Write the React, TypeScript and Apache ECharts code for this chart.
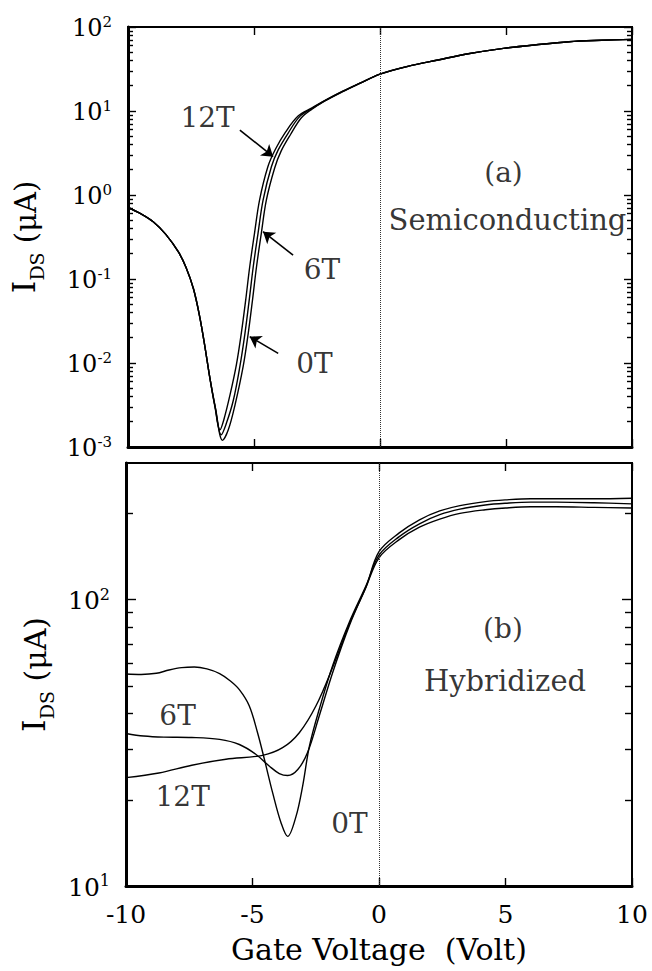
import React, { useEffect, useRef } from 'react';
import * as echarts from 'echarts';

const FONT = 'DejaVu Serif, Liberation Serif, serif';
const INK = '#000';

// ---------- axes ----------
const xRange = [-10, 10];
const topDecades = [0.001, 0.01, 0.1, 1, 10, 100];
const botDecades = [10, 100];
const minorMultipliers = [2, 3, 4, 5, 6, 7, 8, 9];
const botExtraMinor = [200];
const botMax = 300;

// ---------- panel (a): Semiconducting ----------
const top12T: number[][] = [
  [-10, 0.71], [-9.5, 0.6], [-9.0, 0.48], [-8.5, 0.34], [-8.0, 0.21], [-7.7, 0.138], [-7.4, 0.076],
  [-7.15, 0.035], [-6.95, 0.0158], [-6.75, 0.0066], [-6.55, 0.0031], [-6.35, 0.0016], [-6.2, 0.0021],
  [-5.95, 0.0042], [-5.7, 0.0095], [-5.5, 0.023], [-5.33, 0.056], [-5.17, 0.14], [-4.98, 0.35], [-4.78, 0.87],
  [-4.45, 2.17], [-4.15, 3.5], [-3.75, 5.6], [-3.25, 8.7], [-2.7, 10.9], [-2.2, 13.3], [-1.5, 17.1],
  [-0.8, 21.5], [0, 27.5], [1.1, 34], [2.3, 40.5], [3.5, 48], [4.9, 55.7], [6.2, 61.5], [7.5, 66.8],
  [8.8, 69.5], [10, 71.3],
];
const top6T: number[][] = [
  [-10, 0.71], [-9.5, 0.6], [-9.0, 0.48], [-8.5, 0.34], [-8.0, 0.21], [-7.7, 0.138], [-7.4, 0.076],
  [-7.15, 0.035], [-6.95, 0.0158], [-6.75, 0.0066], [-6.55, 0.003], [-6.3, 0.0014], [-6.1, 0.0019],
  [-5.82, 0.0036], [-5.56, 0.0091], [-5.36, 0.0224], [-5.19, 0.056], [-5.03, 0.14], [-4.84, 0.35],
  [-4.64, 0.87], [-4.31, 2.17], [-4.04, 3.44], [-3.65, 5.43], [-3.19, 8.57], [-2.7, 10.7], [-2.2, 13.2],
  [-1.5, 17], [-0.8, 21.4], [0, 27.5], [1.1, 34], [2.3, 40.5], [3.5, 48], [4.9, 55.7], [6.2, 61.5],
  [7.5, 66.8], [8.8, 69.5], [10, 71.3],
];
const top0T: number[][] = [
  [-10, 0.71], [-9.5, 0.6], [-9.0, 0.48], [-8.5, 0.34], [-8.0, 0.21], [-7.7, 0.138], [-7.4, 0.076],
  [-7.15, 0.035], [-6.95, 0.0158], [-6.75, 0.0066], [-6.52, 0.0028], [-6.25, 0.0012], [-6.02, 0.0016],
  [-5.75, 0.0032], [-5.43, 0.0091], [-5.23, 0.0224], [-5.06, 0.056], [-4.9, 0.14], [-4.71, 0.35],
  [-4.51, 0.87], [-4.18, 2.1], [-3.92, 3.35], [-3.55, 5.25], [-3.12, 8.3], [-2.7, 10.5], [-2.2, 13.1],
  [-1.5, 16.9], [-0.8, 21.3], [0, 27.5], [1.1, 34], [2.3, 40.5], [3.5, 48], [4.9, 55.7], [6.2, 61.5],
  [7.5, 66.8], [8.8, 69.5], [10, 71.3],
];
const topLabels = [
  { name: '12T', value: [-6.84, 8.3] },
  { name: '6T', value: [-2.3, 0.128] },
  { name: '0T', value: [-2.6, 0.01] },
  { name: '(a)', value: [4.9, 1.83] },
  { name: 'Semiconducting', value: [5.06, 0.5] },
];
const topArrows: number[][][] = [
  [[-5.56, 5.94], [-4.24, 2.86]],
  [[-3.45, 0.193], [-4.64, 0.366]],
  [[-4.04, 0.013], [-5.17, 0.0206]],
];

// ---------- panel (b): Hybridized ----------
const bot0T: number[][] = [
  [-10, 55], [-9.4, 54.8], [-8.8, 55.3], [-8.3, 56.8], [-7.8, 57.9], [-7.3, 58.2], [-6.8, 57.3],
  [-6.3, 55.2], [-5.9, 52.2], [-5.52, 48.5], [-5.13, 42.6], [-4.8, 34.3], [-4.53, 27.7], [-4.2, 21.1],
  [-3.87, 16.6], [-3.61, 14.9], [-3.28, 17.5], [-3.02, 22.3], [-2.75, 30.8], [-2.36, 41.5], [-1.83, 58.9],
  [-1.17, 83.5], [-0.51, 112], [0, 143], [0.8, 166], [1.6, 184], [2.4, 198], [3.2, 207], [4.2, 214], [5, 217],
  [6, 219], [7, 219], [8.5, 218], [10, 216],
];
const bot6T: number[][] = [
  [-10, 34.1], [-9.3, 33.4], [-8.5, 33.1], [-7.4, 33], [-6.3, 32.5], [-5.52, 31.2], [-4.86, 28.8],
  [-4.33, 26.2], [-3.94, 24.7], [-3.61, 24.3], [-3.21, 25.5], [-2.82, 29.3], [-2.36, 39.3], [-1.83, 55.7],
  [-1.17, 81.3], [-0.51, 110.8], [0, 140], [0.8, 162], [1.6, 179], [2.4, 191], [3.2, 200], [4.2, 206], [5, 209],
  [6, 211], [7, 211], [8.5, 210], [10, 209],
];
const bot12T: number[][] = [
  [-10, 23.9], [-8.7, 24.8], [-7.4, 26.4], [-6.05, 27.7], [-4.6, 28.6], [-3.81, 30.4], [-3.15, 34.3],
  [-2.49, 42.6], [-1.83, 58.1], [-1.17, 82.4], [-0.51, 111], [0, 147], [0.8, 171], [1.6, 190], [2.4, 204],
  [3.2, 213], [4.2, 220], [5, 223], [6, 225], [7, 225], [8.5, 225], [10, 226],
];
const botLabels = [
  { name: '6T', value: [-7.96, 39.3] },
  { name: '12T', value: [-7.76, 20.5] },
  { name: '0T', value: [-1.17, 16.5] },
  { name: '(b)', value: [4.9, 79] },
  { name: 'Hybridized', value: [4.98, 52] },
];

const minorsOf = (decades: number[]) =>
  decades.slice(0, -1).flatMap((d) => minorMultipliers.map((m) => +(d * m).toPrecision(3)));

export default function App() {
  const ref = useRef<HTMLDivElement>(null);

  useEffect(() => {
    document.body.style.margin = '0';
    const chart = echarts.init(ref.current!, null, { renderer: 'svg' });

    const topMinor = minorsOf(topDecades);
    const botMinor = [...minorsOf(botDecades), ...botExtraMinor];

    const sup = (v: number) => `{b|10}{s|${Math.round(Math.log10(v))}}`;
    const supRich = (big: number, small: number, raise: number) => ({
      b: { fontSize: big, fontFamily: FONT, color: INK, verticalAlign: 'bottom' },
      s: { fontSize: small, fontFamily: FONT, color: INK, verticalAlign: 'bottom', padding: [0, 0, raise, 0] },
    });
    const nameRich = (big: number, sub: number, unit: number) => ({
      i: { fontSize: big, fontFamily: FONT, color: INK, verticalAlign: 'bottom', padding: [0, 0, 6, 0] },
      d: { fontSize: sub, fontFamily: FONT, color: INK, verticalAlign: 'bottom' },
      u: { fontSize: unit, fontFamily: FONT, color: INK, verticalAlign: 'bottom', padding: [0, 0, 6, 0] },
    });

    const yAx = (
      gridIndex: number, min: number, max: number, position: string, ticks: number[], len: number,
      extra: any = {}
    ) => ({
      type: 'log', logBase: 10, gridIndex, min, max, position,
      axisLine: { show: false, onZero: false },
      axisTick: { show: true, inside: true, length: len, customValues: ticks, lineStyle: { color: INK, width: 1.4 } },
      axisLabel: { show: false },
      splitLine: { show: false },
      ...extra,
    });

    const xAx = (gridIndex: number, position: string, extra: any = {}) => ({
      type: 'value', gridIndex, position, min: xRange[0], max: xRange[1], interval: 5,
      axisLine: { show: false, onZero: false },
      axisTick: { show: true, inside: true, length: 8, lineStyle: { color: INK, width: 1.4 } },
      axisLabel: { show: false },
      splitLine: { show: false },
      ...extra,
    });

    const lineSeries = (data: number[][], xi: number, yi: number, extra: any = {}) => ({
      type: 'line', data, xAxisIndex: xi, yAxisIndex: yi, showSymbol: false, smooth: 0.35,
      lineStyle: { color: INK, width: 1.4 }, silent: true, ...extra,
    });

    const annoSeries = (data: any[], xi: number, yi: number) => ({
      type: 'scatter', xAxisIndex: xi, yAxisIndex: yi, symbolSize: 1, silent: true, z: 10,
      itemStyle: { color: 'rgba(0,0,0,0)' },
      label: {
        show: true, position: 'inside', formatter: '{b}', color: INK, fontFamily: FONT,
        fontSize: 28,
      },
      data: data.map((d) => ({
        ...d,
        label: { fontSize: d.name.length > 4 ? 29 : 28 },
      })),
    });

    const dotted = {
      silent: true, symbol: ['none', 'none'], label: { show: false },
      lineStyle: { type: 'dotted', color: '#333', width: 1 },
      data: [{ xAxis: 0 }],
    };

    const option: any = {
      animation: false,
      backgroundColor: '#fff',
      textStyle: { fontFamily: FONT, color: INK },
      grid: [
        { left: 126, top: 27, width: 506, height: 420, show: true, borderColor: INK, borderWidth: 2, backgroundColor: 'transparent' },
        { left: 126, top: 463, width: 506, height: 423, show: true, borderColor: INK, borderWidth: 2, backgroundColor: 'transparent' },
      ],
      xAxis: [
        xAx(0, 'bottom', { axisLine: { show: true, onZero: false, lineStyle: { color: INK, width: 3 } } }),
        xAx(0, 'top'),
        xAx(1, 'bottom', {
          axisLine: { show: true, onZero: false, lineStyle: { color: INK, width: 3 } },
          axisLabel: { show: true, margin: 16, fontSize: 25, fontFamily: FONT, color: INK, formatter: (v: number) => String(v) },
          name: 'Gate Voltage  (Volt)', nameLocation: 'middle', nameGap: 48,
          nameTextStyle: { fontSize: 30, fontFamily: FONT, color: INK },
        }),
        xAx(1, 'top'),
      ],
      yAxis: [
        yAx(0, 0.001, 100, 'left', topDecades, 8, {
          axisLine: { show: true, onZero: false, lineStyle: { color: INK, width: 3 } },
          axisLabel: { show: true, margin: 16, customValues: topDecades, formatter: sup, rich: supRich(24, 15, 10) },
          name: '{i|I}{d|DS}{u| (μA)}', nameLocation: 'middle', nameRotate: 90, nameGap: 82,
          nameTextStyle: { fontFamily: FONT, color: INK, rich: nameRich(32, 19, 29) },
        }),
        yAx(0, 0.001, 100, 'left', topMinor, 5),
        yAx(0, 0.001, 100, 'right', topDecades, 8),
        yAx(0, 0.001, 100, 'right', topMinor, 5),
        yAx(1, 10, botMax, 'left', botDecades, 10, {
          axisLine: { show: true, onZero: false, lineStyle: { color: INK, width: 3 } },
          axisLabel: { show: true, margin: 16, customValues: botDecades, formatter: sup, rich: supRich(25, 16, 11) },
          name: '{i|I}{d|DS}{u| (μA)}', nameLocation: 'middle', nameRotate: 90, nameGap: 70,
          nameTextStyle: { fontFamily: FONT, color: INK, rich: nameRich(32, 19, 30) },
        }),
        yAx(1, 10, botMax, 'left', botMinor, 7),
        yAx(1, 10, botMax, 'right', botDecades, 10),
        yAx(1, 10, botMax, 'right', botMinor, 7),
      ],
      series: [
        lineSeries(top12T, 0, 0),
        lineSeries(top6T, 0, 0, { markLine: dotted }),
        lineSeries(top0T, 0, 0, {
          markLine: {
            silent: true, symbol: ['none', 'arrow'], symbolSize: 11, label: { show: false },
            lineStyle: { type: 'solid', color: INK, width: 1.6 },
            data: topArrows.map((a) => [{ coord: a[0] }, { coord: a[1] }]),
          },
        }),
        annoSeries(topLabels, 0, 0),
        lineSeries(bot0T, 2, 4, { markLine: dotted }),
        lineSeries(bot6T, 2, 4),
        lineSeries(bot12T, 2, 4),
        annoSeries(botLabels, 2, 4),
      ],
    };

    chart.setOption(option);
    return () => chart.dispose();
  }, []);

  return (
    <div
      ref={ref}
      style={{ position: 'absolute', left: 0, top: 0, width: 652, height: 971, background: '#fff' }}
    />
  );
}
